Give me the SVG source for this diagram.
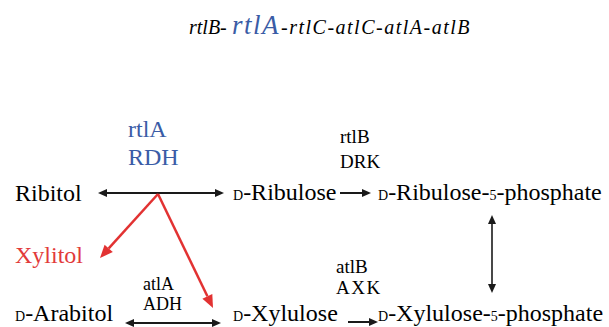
<svg xmlns="http://www.w3.org/2000/svg" width="609" height="327" viewBox="0 0 609 327">
<g id="title">
<text font-family="Liberation Serif" font-style="italic" font-size="20" x="189" y="34">rtlB-</text>
<text font-family="Liberation Serif" font-style="italic" font-size="27" fill="#3a5ca6" x="232" y="34" letter-spacing="1.5">rtlA</text>
<text font-family="Liberation Serif" font-style="italic" font-size="20" x="281" y="34" letter-spacing="1.5">-rtlC-atlC-atlA-atlB</text>
</g>
<g id="connectors">
<line stroke="#1a1a1a" stroke-width="2" x1="106" y1="193" x2="216" y2="193"/>
<polygon fill="#1a1a1a" points="98,193 107,189 107,197"/>
<polygon fill="#1a1a1a" points="224,193 215,189 215,197"/>
<line stroke="#1a1a1a" stroke-width="2" x1="340" y1="193" x2="363" y2="193"/>
<polygon fill="#1a1a1a" points="371,193 362,189 362,197"/>
<line stroke="#1a1a1a" stroke-width="1.6" x1="492" y1="223" x2="492" y2="285"/>
<polygon fill="#1a1a1a" points="492,215 488,224 496,224"/>
<polygon fill="#1a1a1a" points="492,293 488,284 496,284"/>
<line stroke="#1a1a1a" stroke-width="2" x1="133" y1="323" x2="213" y2="323"/>
<polygon fill="#1a1a1a" points="125,323 134,319 134,327"/>
<polygon fill="#1a1a1a" points="221,323 212,319 212,327"/>
<line stroke="#1a1a1a" stroke-width="2" x1="348" y1="322" x2="370" y2="322"/>
<polygon fill="#1a1a1a" points="378,322 369,318 369,326"/>
<line stroke="#e23232" stroke-width="2.5" x1="158" y1="194" x2="108.7" y2="248.4"/>
<polygon fill="#e23232" points="100,258 112.8,252.1 104.6,244.7"/>
<line stroke="#e23232" stroke-width="2.5" x1="158" y1="194" x2="207.4" y2="296.3"/>
<polygon fill="#e23232" points="213,308 212.3,293.9 202.4,298.7"/>
</g>
<g id="ribitol"><text font-family="Liberation Serif" font-size="24" x="15" y="201">Ribitol</text></g>
<g id="d-ribulose"><text font-family="Liberation Serif" font-size="24" x="233" y="200"><tspan font-size="14">D</tspan>-Ribulose</text></g>
<g id="d-ribulose-5-phosphate"><text font-family="Liberation Serif" font-size="24" x="378" y="200"><tspan font-size="14">D</tspan>-Ribulose-<tspan font-size="14">5</tspan>-phosphate</text></g>
<g id="xylitol"><text font-family="Liberation Serif" font-size="24" fill="#e23a3a" x="15" y="263">Xylitol</text></g>
<g id="d-arabitol"><text font-family="Liberation Serif" font-size="24" x="15" y="321"><tspan font-size="14">D</tspan>-Arabitol</text></g>
<g id="d-xylulose"><text font-family="Liberation Serif" font-size="24" x="233" y="321"><tspan font-size="14">D</tspan>-Xylulose</text></g>
<g id="d-xylulose-5-phosphate"><text font-family="Liberation Serif" font-size="24" x="378" y="321"><tspan font-size="14">D</tspan>-Xylulose-<tspan font-size="14">5</tspan>-phosphate</text></g>
<g id="enzyme-rdh"><text font-family="Liberation Serif" font-size="24" fill="#3a5ca6" x="128" y="137">rtlA</text><text font-family="Liberation Serif" font-size="24" fill="#3a5ca6" x="128" y="165">RDH</text></g>
<g id="enzyme-drk"><text font-family="Liberation Serif" font-size="19" x="340" y="143">rtlB</text><text font-family="Liberation Serif" font-size="19" x="340" y="168">DRK</text></g>
<g id="enzyme-adh"><text font-family="Liberation Serif" font-size="18" x="143" y="290">atlA</text><text font-family="Liberation Serif" font-size="18" x="143" y="310">ADH</text></g>
<g id="enzyme-axk"><text font-family="Liberation Serif" font-size="19" x="336" y="273">atlB</text><text font-family="Liberation Serif" font-size="19" x="336" y="294" letter-spacing="1.5">AXK</text></g>
</svg>
